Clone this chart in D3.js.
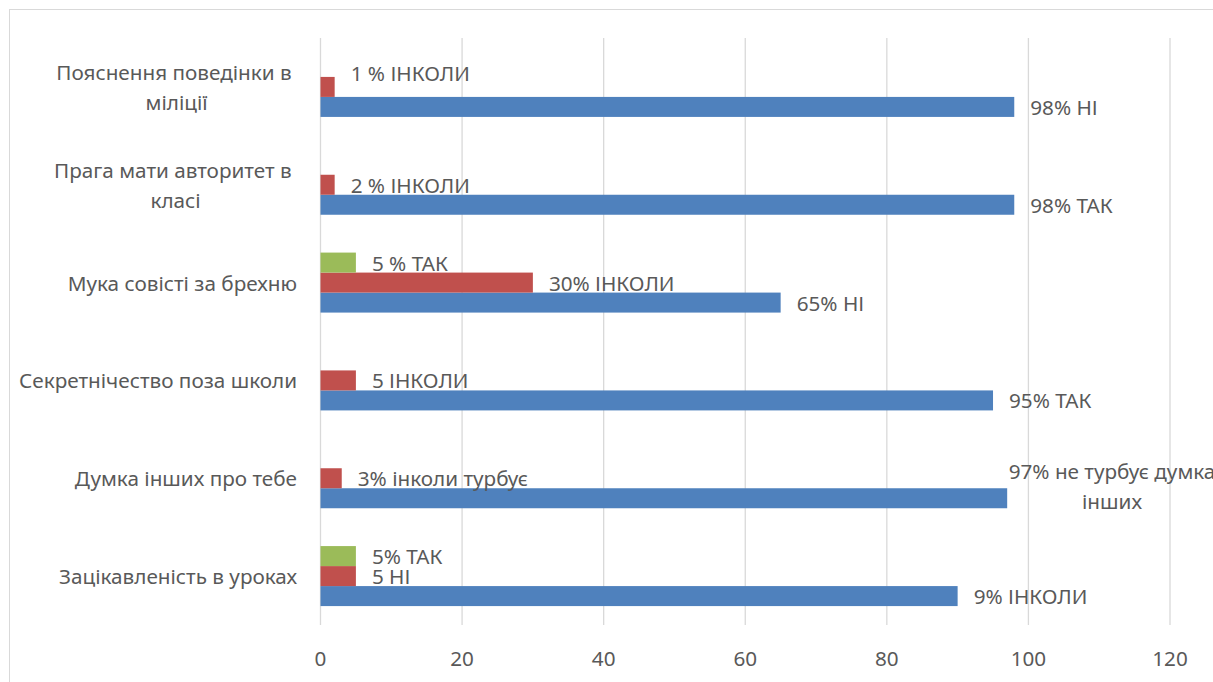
<!DOCTYPE html>
<html>
<head>
<meta charset="utf-8">
<script src="https://cdn.jsdelivr.net/npm/d3@7"></script>
<style>
  body { margin: 0; background: #fff; }
  svg text { font-family: "Noto Sans", sans-serif; fill: #595959; white-space: pre; }
</style>
</head>
<body>
<svg id="chart" width="1213" height="682"></svg>
<script>
// categories, top to bottom as shown
const categories = [
    ['Пояснення поведінки в ', 'міліції'],
    ['Прага мати авторитет в ', 'класі'],
    ['Мука совісті за брехню'],
    ['Секретнічество поза школи'],
    ['Думка інших про тебе'],
    ['Зацікавленість в уроках']
];
const seriesNames = ['blue', 'red', 'green'];
const blueValues = [98, 98, 65, 95, 97, 90];
const redValues = [2, 2, 30, 5, 3, 5];
const greenValues = [0, 0, 5, 0, 0, 5];
const blueLabels = ['98% НІ', '98% ТАК', '65% НІ', '95% ТАК', '97% не турбує думка\nінших', '9% ІНКОЛИ'];
const redLabels = ['1 % ІНКОЛИ', '2 % ІНКОЛИ', '30% ІНКОЛИ', '5 ІНКОЛИ', '3% інколи турбує', '5 НІ'];
const greenLabels = [null, null, '5 % ТАК', null, null, '5% ТАК'];
const xTicks = [0, 20, 40, 60, 80, 100, 120];

const colors = { blue: '#4f81bd', red: '#c0504d', green: '#9bbb59' };
const values = { blue: blueValues, red: redValues, green: greenValues };
const labels = { blue: blueLabels, red: redLabels, green: greenLabels };

// hand-placed labels in the original
const nudges = {
    'red-0': { dx: 0, dy: -14 },
    'blue-4': { anchor: 'middle', x: 1112, dy: -12 }
};

const svg = d3.select('#chart');
const margin = { left: 320.5, right: 43, top: 38, bottom: 57 };
const W = 1213, H = 682;
const fontSize = 20.7;

// chart frame
svg.append('rect')
    .attr('x', 9.5).attr('y', 9.5)
    .attr('width', W + 20).attr('height', H + 20)
    .style('fill', 'none')
    .style('stroke', '#d9d9d9')
    .style('stroke-width', 1);

const x = d3.scaleLinear().domain([0, 120]).range([margin.left, W - margin.right]);
const y = d3.scaleBand().domain(d3.range(categories.length))
    .range([margin.top, H - margin.bottom]).paddingInner(0).paddingOuter(0);
const groupH = 60;
const inner = d3.scaleBand().domain(['green', 'red', 'blue']).range([0, groupH]);

// gridlines
svg.append('g').selectAll('line')
    .data(xTicks)
    .join('line')
    .attr('x1', d => x(d)).attr('x2', d => x(d))
    .attr('y1', margin.top).attr('y2', H - margin.bottom)
    .style('stroke', '#d9d9d9')
    .style('stroke-width', 1.3);

// tick labels
svg.append('g').selectAll('text')
    .data(xTicks)
    .join('text')
    .attr('x', d => x(d))
    .attr('y', 658)
    .attr('text-anchor', 'middle')
    .attr('dominant-baseline', 'central')
    .style('font-size', fontSize + 'px')
    .text(d => d);

// bars
const barLayer = svg.append('g');
const labelLayer = svg.append('g');
categories.forEach((cat, i) => {
    const top = y(i) + (y.bandwidth() - groupH) / 2;
    seriesNames.forEach(s => {
        const v = values[s][i];
        const by = top + inner(s);
        if (v > 0) {
            barLayer.append('rect')
                .attr('x', x(0))
                .attr('y', by)
                .attr('width', x(v) - x(0))
                .attr('height', inner.bandwidth())
                .style('fill', colors[s]);
        }
        const txt = labels[s][i];
        if (!txt) return;
        const n = nudges[s + '-' + i] || {};
        const lines = txt.split('\n');
        const lx = n.x !== undefined ? n.x : x(v) + 16;
        const cy = by + inner.bandwidth() / 2 + (n.dy || 0);
        const lh = 30;
        const t = labelLayer.append('text')
            .attr('text-anchor', n.anchor || 'start')
            .style('font-size', fontSize + 'px');
        lines.forEach((ln, k) => {
            t.append('tspan')
                .attr('x', lx)
                .attr('y', cy + (k - (lines.length - 1) / 2) * lh)
                .attr('dominant-baseline', 'central')
                .text(ln);
        });
    });
});

// category labels: block right-aligned, lines centered inside the block
const catRight = 297;
categories.forEach((lines, i) => {
    const cy = y(i) + y.bandwidth() / 2;
    const lh = 30;
    const g = svg.append('g');
    const texts = lines.map((ln, k) => g.append('text')
        .attr('y', cy + (k - (lines.length - 1) / 2) * lh)
        .attr('dominant-baseline', 'central')
        .attr('text-anchor', 'middle')
        .style('font-size', fontSize + 'px')
        .text(ln));
    const maxW = d3.max(texts, t => t.node().getComputedTextLength());
    texts.forEach(t => t.attr('x', catRight - maxW / 2));
});
</script>
</body>
</html>
